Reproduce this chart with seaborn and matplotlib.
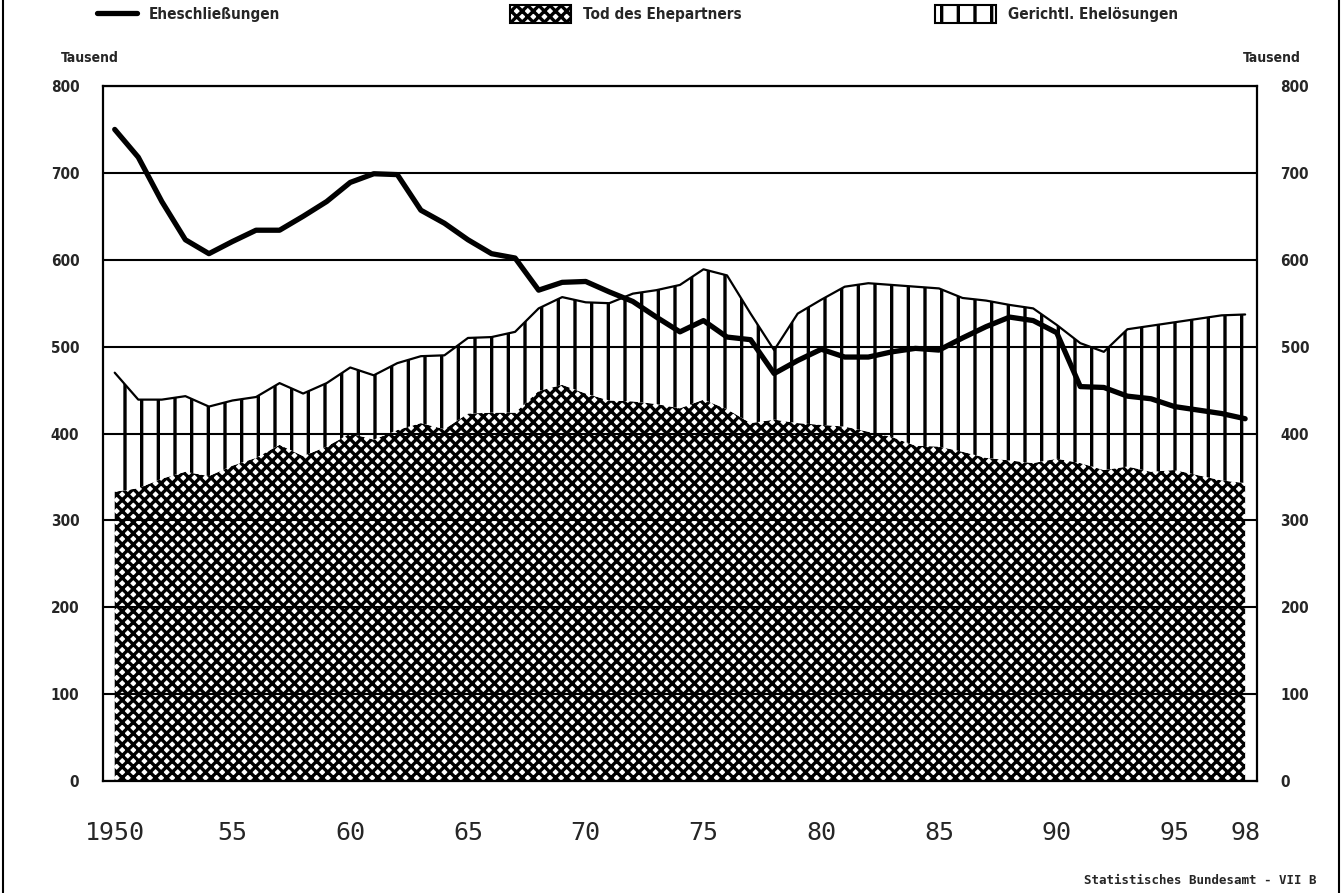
import pandas as pd
import matplotlib.pyplot as plt
import seaborn as sns
from matplotlib import font_manager
from matplotlib.lines import Line2D
from matplotlib.patches import Patch

# ------------------------------------------------
# Data (thousand), Deutschland 1950-1998
# ------------------------------------------------
years = list(range(1950, 1999))

eheschliessungen = [750, 718, 667, 623, 607, 621, 634, 634, 650, 667,
                    689, 699, 698, 657, 642, 623, 607, 602, 565, 574,
                    575, 563, 552, 534, 517, 530, 511, 508, 469, 484,
                    497, 488, 488, 494, 498, 496, 510, 523, 534, 530,
                    516, 454, 453, 443, 440, 431, 427, 423, 417]

tod_ehepartner = [333, 337, 348, 356, 351, 363, 372, 387, 374, 385,
                  400, 393, 404, 412, 405, 423, 424, 424, 449, 456,
                  446, 438, 437, 434, 429, 439, 428, 412, 416, 412,
                  410, 408, 402, 396, 386, 385, 379, 372, 369, 366,
                  371, 366, 358, 362, 356, 358, 352, 346, 343]

gerichtl_eheloesungen = [137, 102, 91, 87, 80, 75, 70, 71, 72, 73,
                         76, 74, 77, 77, 85, 87, 87, 93, 95, 101,
                         105, 112, 124, 131, 142, 150, 154, 126, 80, 126,
                         144, 161, 171, 175, 183, 182, 177, 181, 179, 178,
                         154, 138, 136, 158, 168, 170, 180, 190, 194]

label_years = [1950, 1955, 1960, 1965, 1970, 1975, 1980, 1985, 1990, 1995, 1998]
label_texts = ['1950', '55', '60', '65', '70', '75', '80', '85', '90', '95', '98']

df = pd.DataFrame({'Jahr': years,
                   'Eheschliessungen': eheschliessungen,
                   'Tod': tod_ehepartner,
                   'Gerichtl': gerichtl_eheloesungen})
df['Loesungen'] = df['Tod'] + df['Gerichtl']

# ------------------------------------------------
# Style
# ------------------------------------------------
sns.set_style('white')
fonts = font_manager.fontManager.ttflist
names = {f.name for f in fonts}
if 'Liberation Sans Narrow' in names:
    narrow, stretch = 'Liberation Sans Narrow', 'normal'
elif any(f.name == 'DejaVu Sans' and f.stretch == 'condensed' for f in fonts):
    narrow, stretch = 'DejaVu Sans', 'condensed'
else:
    narrow, stretch = 'DejaVu Sans', 'normal'
plt.rcParams['font.family'] = ['DejaVu Sans']
plt.rcParams['hatch.color'] = 'black'

small = {'family': narrow, 'weight': 'bold', 'stretch': stretch}
CROSS = 'xxx'
CROSS_LW = 2.4
VERT_LW = 2.4


def hatch_lw(artist, lw):
    # per-artist hatch width where the matplotlib version supports it
    if hasattr(artist, 'set_hatch_linewidth'):
        artist.set_hatch_linewidth(lw)


fig = plt.figure(figsize=(13.44, 8.93), dpi=100)
ax = fig.add_axes([0.0766, 0.1254, 0.8586, 0.7783])

# areas
with plt.rc_context({'hatch.linewidth': CROSS_LW}):
    tod_fill = ax.fill_between(df['Jahr'], 0, df['Tod'], facecolor='white', edgecolor='black',
                               hatch=CROSS, linewidth=0, zorder=1)
    hatch_lw(tod_fill, CROSS_LW)
with plt.rc_context({'hatch.linewidth': VERT_LW}):
    ger_fill = ax.fill_between(df['Jahr'], df['Tod'], df['Loesungen'], facecolor='white',
                               edgecolor='black', hatch='|', linewidth=0, zorder=1)
    hatch_lw(ger_fill, VERT_LW)
sns.lineplot(data=df, x='Jahr', y='Loesungen', color='black', linewidth=1.6,
             ax=ax, zorder=3)
sns.lineplot(data=df, x='Jahr', y='Eheschliessungen', color='black', linewidth=3.8,
             ax=ax, zorder=4)

# axes
ax.set_xlim(1949.5, 1998.5)
ax.set_ylim(0, 800)
ax.set_xlabel('')
ax.set_ylabel('')
ax.set_yticks(range(0, 900, 100))
ax.grid(axis='y', color='black', linewidth=1.5)
ax.set_axisbelow(False)
for s in ax.spines.values():
    s.set_color('black')
    s.set_linewidth(1.6)

major = [1949.5] + [y + 0.5 for y in range(1955, 1996, 5)] + [1998.5]
minor = [y + 0.5 for y in range(1949, 1999) if y + 0.5 not in major]
ax.set_xticks(major)
ax.set_xticks(minor, minor=True)
ax.set_xticklabels([])
ax.tick_params(axis='x', which='major', length=14, width=1.4, color='black', direction='out')
ax.tick_params(axis='x', which='minor', length=7, width=1.4, color='black', direction='out')
ax.tick_params(axis='y', length=0, pad=17, labelleft=True, labelright=True)
for lab in ax.get_yticklabels():
    lab.set_fontfamily(narrow)
    lab.set_fontweight('bold')
    lab.set_fontstretch(stretch)
    lab.set_fontsize(11)

for yr, txt in zip(label_years, label_texts):
    ax.text(yr, -0.075, txt, transform=ax.get_xaxis_transform(), ha='center', va='center',
            fontsize=18, family='DejaVu Sans Mono')

fig.text(90 / 1344, 1 - 58 / 893, 'Tausend', ha='center', va='center', fontsize=10, **small)
fig.text(1272 / 1344, 1 - 58 / 893, 'Tausend', ha='center', va='center', fontsize=10, **small)

# legend entries
with plt.rc_context({'hatch.linewidth': CROSS_LW}):
    cross_patch = Patch(facecolor='white', edgecolor='black', hatch=CROSS, linewidth=1.5)
    hatch_lw(cross_patch, CROSS_LW)
with plt.rc_context({'hatch.linewidth': VERT_LW}):
    vert_patch = Patch(facecolor='white', edgecolor='black', hatch='|', linewidth=1.5)
    hatch_lw(vert_patch, VERT_LW)

legends = [
    (Line2D([], [], color='black', linewidth=3.8), 'Eheschließungen', 97, 2.6, 0.7),
    (cross_patch, 'Tod des Ehepartners', 510, 4.0, 1.4),
    (vert_patch, 'Gerichtl. Ehelösungen', 935, 4.0, 1.4),
]
for handle, text, xpx, hl, hh in legends:
    leg = fig.legend([handle], [text], loc='center left', bbox_to_anchor=(xpx / 1344, 1 - 14 / 893),
                     frameon=False, borderpad=0, borderaxespad=0, handlelength=hl,
                     handleheight=hh, handletextpad=0.8, prop=dict(small, size=11))
    for p in leg.get_patches():
        hatch_lw(p, CROSS_LW if p.get_hatch() == CROSS else VERT_LW)

fig.text(1316 / 1344, 1 - 880 / 893, 'Statistisches Bundesamt - VII B', ha='right',
         va='center', family='DejaVu Sans Mono', fontweight='bold', fontsize=9)

# page border
fig.add_artist(Line2D([0.002, 0.002], [0, 1], color='black', linewidth=1.5))
fig.add_artist(Line2D([0.996, 0.996], [0, 1], color='black', linewidth=1.5))

fig.savefig('out.png', dpi=100, facecolor='white')
